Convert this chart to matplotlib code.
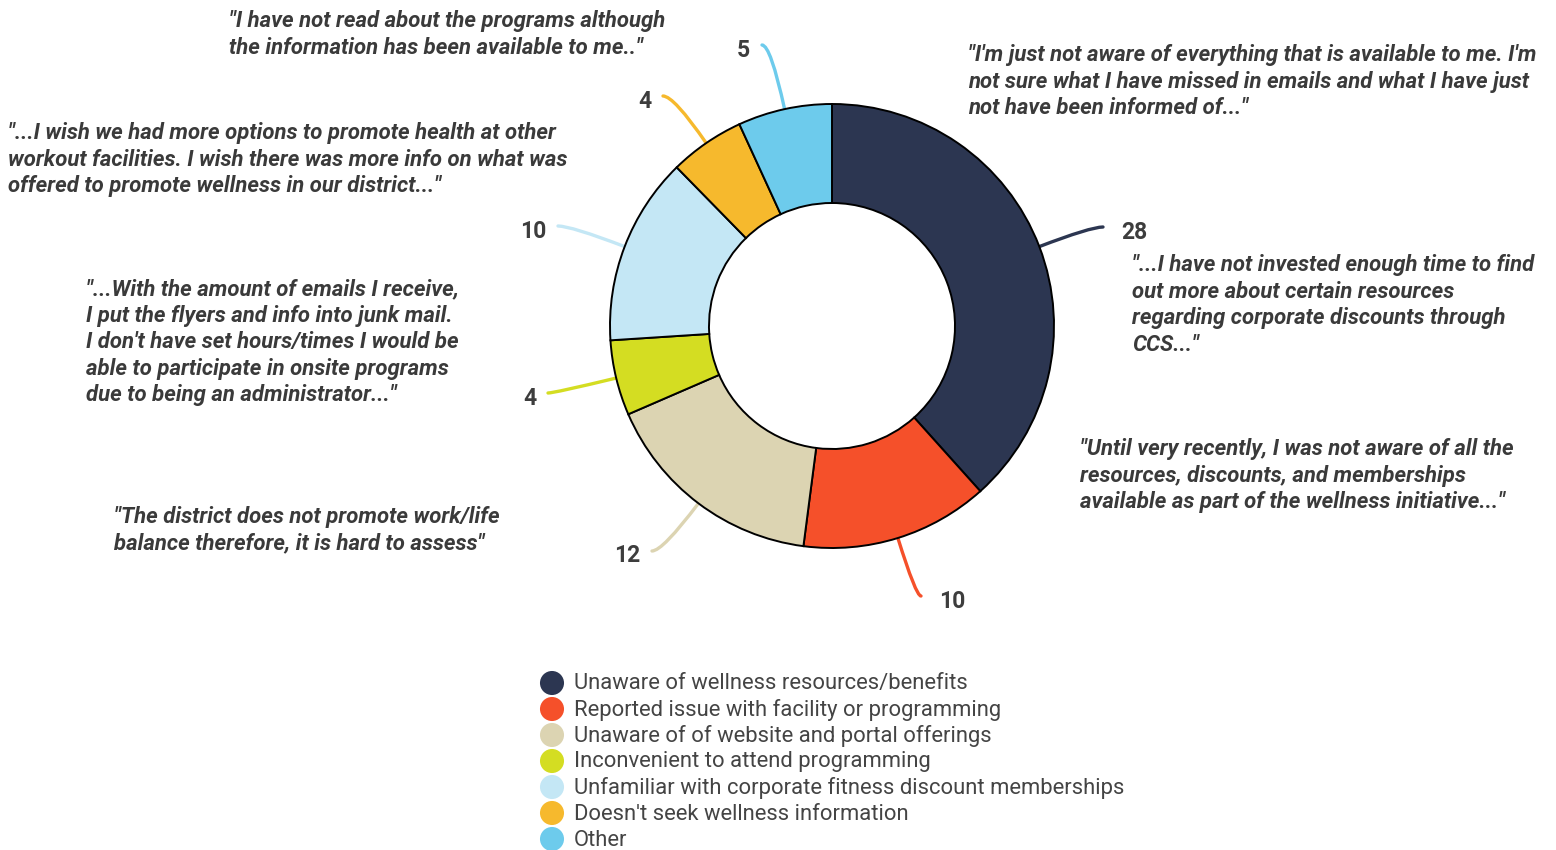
import numpy as np
import matplotlib
matplotlib.use("Agg")
import matplotlib.pyplot as plt
from matplotlib.path import Path
from matplotlib.patches import PathPatch

plt.rcParams['font.family'] = ['Roboto', 'DejaVu Sans']

# survey answers: reasons for not using wellness offerings
categories = [
    "Unaware of wellness resources/benefits",
    "Reported issue with facility or programming",
    "Unaware of of website and portal offerings",
    "Inconvenient to attend programming",
    "Unfamiliar with corporate fitness discount memberships",
    "Doesn't seek wellness information",
    "Other",
]
counts = [28, 10, 12, 4, 10, 4, 5]
colors = ["#2c3651", "#f5502a", "#dcd4b2", "#d4dd22", "#c4e7f5", "#f6b92d", "#6dcbec"]

quotes = [
    "\"I have not read about the programs although\nthe information has been available to me..\"",
    "\"...I wish we had more options to promote health at other\nworkout facilities. I wish there was more info on what was\noffered to promote wellness in our district...\"",
    "\"...With the amount of emails I receive,\nI put the flyers and info into junk mail.\nI don't have set hours/times I would be\nable to participate in onsite programs\ndue to being an administrator...\"",
    "\"The district does not promote work/life\nbalance therefore, it is hard to assess\"",
    "\"I'm just not aware of everything that is available to me. I'm\nnot sure what I have missed in emails and what I have just\nnot have been informed of...\"",
    "\"...I have not invested enough time to find\nout more about certain resources\nregarding corporate discounts through\nCCS...\"",
    "\"Until very recently, I was not aware of all the\nresources, discounts, and memberships\navailable as part of the wellness initiative...\"",
]

# layout (pixel space, y down)
W, H = 1556, 850
CENTER = (832, 326)
R_OUT, R_IN = 222, 123
label_ends = [(1103, 227), (921, 596), (652, 551), (548, 393),
              (558, 226), (663, 96), (762, 45)]
quote_pos = [(229, 10), (8, 122), (86, 278), (114, 506),
             (968, 44), (1132, 254), (1080, 438)]

fig = plt.figure(figsize=(W / 100, H / 100), dpi=100)
ax = fig.add_axes([0, 0, 1, 1])

# y axis is inverted, so counterclock in data space runs clockwise on screen
wedges, _ = ax.pie(counts, colors=colors, startangle=-90, counterclock=True,
                   radius=R_OUT, center=CENTER,
                   wedgeprops=dict(width=R_OUT - R_IN, edgecolor="black",
                                   linewidth=1.4))
for w in wedges:
    w.set_zorder(3)

for w, n, col, (ex, ey) in zip(wedges, counts, colors, label_ends):
    mid = np.deg2rad((w.theta1 + w.theta2) / 2)
    dx, dy = np.cos(mid), np.sin(mid)
    sx, sy = CENTER[0] + R_OUT * dx, CENTER[1] + R_OUT * dy
    t = (ey - sy) / dy
    cx = sx + t * dx
    path = Path([(sx, sy), (cx, ey), (ex, ey)],
                [Path.MOVETO, Path.CURVE3, Path.CURVE3])
    ax.add_patch(PathPatch(path, facecolor="none", edgecolor=col, lw=2.4,
                           capstyle="round", zorder=2))
    if ex > CENTER[0]:
        ax.text(ex + 18, ey + 5, str(n), ha="left", va="center",
                fontsize=16.5, fontweight="bold", color="#3d3d3d")
    else:
        ax.text(ex - 12, ey + 5, str(n), ha="right", va="center",
                fontsize=16.5, fontweight="bold", color="#3d3d3d")

for q, (qx, qy) in zip(quotes, quote_pos):
    ax.text(qx, qy, q, ha="left", va="top", fontsize=15.9,
            fontweight="bold", fontstyle="italic", color="#3a3a3a",
            linespacing=1.265)

# legend
leg_y = 683
for i, (cat, col) in enumerate(zip(categories, colors)):
    y = leg_y + 26 * i
    ax.scatter([552], [y], s=300, color=col, edgecolors="none", zorder=4)
    ax.text(574, y + 1, cat, ha="left", va="center", fontsize=15.8,
            color="#444444")

ax.set_xlim(0, W)
ax.set_ylim(H, 0)
ax.set_aspect("auto")
ax.axis("off")

fig.savefig("out.png", dpi=100, facecolor="white")
